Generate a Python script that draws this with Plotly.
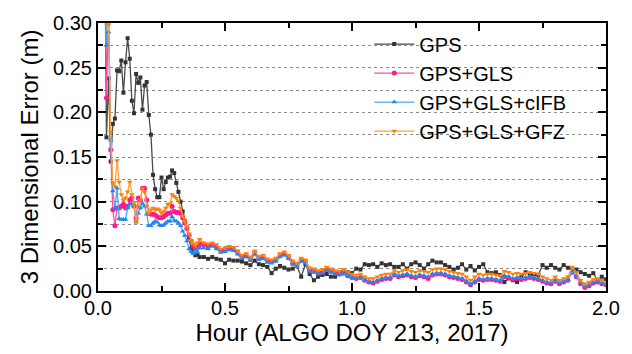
import numpy as np
import plotly.graph_objects as go

# epochs: 30 s spacing during convergence, 1 min afterwards (hours)
t_early = np.round(0.025 + np.arange(46) / 120, 5)
t_late = np.round(0.4 + np.arange(1, 97) / 60, 5)
hours = np.concatenate([t_early, t_late])

gps_early = [0.45, 0.172, 0.238, 0.145, 0.187, 0.193, 0.247, 0.246, 0.258, 0.222,
             0.256, 0.283, 0.260, 0.213, 0.199, 0.243, 0.233, 0.239, 0.203, 0.230,
             0.234, 0.197, 0.175, 0.130, 0.114, 0.105, 0.105, 0.127, 0.114, 0.122,
             0.127, 0.128, 0.135, 0.132, 0.121, 0.111, 0.100, 0.089, 0.078, 0.071,
             0.060, 0.047, 0.043, 0.040, 0.041, 0.038]
gps_late = [0.038, 0.036, 0.038, 0.036, 0.035, 0.031, 0.035, 0.034, 0.034, 0.033,
            0.031, 0.029, 0.034, 0.030, 0.029, 0.027, 0.020, 0.025, 0.028, 0.026,
            0.024, 0.025, 0.028, 0.016, 0.030, 0.019, 0.012, 0.016, 0.018, 0.019,
            0.016, 0.016, 0.021, 0.023, 0.021, 0.020, 0.025, 0.024, 0.030, 0.029,
            0.030, 0.027, 0.031, 0.029, 0.030, 0.027, 0.027, 0.030, 0.025, 0.030,
            0.032, 0.029, 0.025, 0.030, 0.034, 0.032, 0.032, 0.029, 0.027, 0.024,
            0.026, 0.030, 0.024, 0.028, 0.023, 0.027, 0.030, 0.021, 0.020, 0.021,
            0.018, 0.010, 0.014, 0.012, 0.010, 0.016, 0.021, 0.019, 0.019, 0.018,
            0.029, 0.026, 0.029, 0.026, 0.024, 0.029, 0.026, 0.024, 0.024, 0.021,
            0.019, 0.017, 0.020, 0.012, 0.016, 0.013]

gls_early = [0.45, 0.216, 0.320, 0.158, 0.091, 0.073, 0.093, 0.093, 0.095, 0.097,
             0.093, 0.095, 0.102, 0.104, 0.095, 0.082, 0.104, 0.102, 0.115, 0.115,
             0.102, 0.087, 0.086, 0.086, 0.085, 0.083, 0.082, 0.082, 0.083, 0.085,
             0.087, 0.087, 0.095, 0.089, 0.088, 0.088, 0.087, 0.082, 0.076, 0.070,
             0.062, 0.056, 0.050, 0.047, 0.050, 0.053]
gls_late = [0.052, 0.050, 0.052, 0.049, 0.045, 0.046, 0.048, 0.047, 0.043, 0.038,
            0.040, 0.036, 0.043, 0.037, 0.038, 0.034, 0.033, 0.035, 0.040, 0.042,
            0.038, 0.031, 0.029, 0.035, 0.033, 0.023, 0.022, 0.020, 0.021, 0.024,
            0.022, 0.020, 0.019, 0.020, 0.017, 0.015, 0.014, 0.015, 0.012, 0.010,
            0.009, 0.011, 0.013, 0.014, 0.014, 0.018, 0.016, 0.017, 0.018, 0.016,
            0.015, 0.017, 0.016, 0.014, 0.018, 0.019, 0.019, 0.018, 0.016, 0.015,
            0.014, 0.013, 0.010, 0.007, 0.010, 0.013, 0.012, 0.013, 0.013, 0.012,
            0.011, 0.016, 0.015, 0.013, 0.014, 0.013, 0.014, 0.015, 0.014, 0.013,
            0.011, 0.009, 0.008, 0.011, 0.008, 0.010, 0.012, 0.021, 0.016, 0.008,
            0.004, 0.006, 0.009, 0.010, 0.008, 0.007]

cifb_early = [0.45, 0.275, 0.290, 0.169, 0.112, 0.093, 0.115, 0.081, 0.080, 0.080,
              0.080, 0.093, 0.097, 0.098, 0.095, 0.077, 0.087, 0.093, 0.098, 0.095,
              0.086, 0.073, 0.073, 0.076, 0.078, 0.077, 0.074, 0.073, 0.074, 0.076,
              0.078, 0.078, 0.083, 0.079, 0.078, 0.076, 0.073, 0.067, 0.062, 0.056,
              0.047, 0.044, 0.042, 0.046, 0.043, 0.048]
cifb_late = [0.048, 0.047, 0.050, 0.047, 0.043, 0.044, 0.046, 0.045, 0.041, 0.036,
             0.038, 0.034, 0.041, 0.035, 0.036, 0.032, 0.031, 0.033, 0.038, 0.040,
             0.036, 0.030, 0.027, 0.033, 0.031, 0.022, 0.021, 0.019, 0.020, 0.023,
             0.021, 0.019, 0.018, 0.020, 0.017, 0.015, 0.014, 0.015, 0.012, 0.010,
             0.010, 0.012, 0.014, 0.015, 0.015, 0.019, 0.017, 0.018, 0.019, 0.017,
             0.016, 0.018, 0.017, 0.016, 0.019, 0.020, 0.020, 0.019, 0.017, 0.016,
             0.015, 0.014, 0.011, 0.008, 0.011, 0.014, 0.013, 0.014, 0.014, 0.013,
             0.012, 0.017, 0.016, 0.014, 0.015, 0.014, 0.015, 0.016, 0.015, 0.014,
             0.012, 0.010, 0.009, 0.012, 0.009, 0.011, 0.013, 0.022, 0.017, 0.009,
             0.005, 0.007, 0.010, 0.011, 0.009, 0.008]

gfz_early = [0.45, 0.420, 0.298, 0.178, 0.121, 0.117, 0.146, 0.122, 0.108, 0.102,
             0.104, 0.111, 0.122, 0.108, 0.098, 0.078, 0.095, 0.102, 0.115, 0.111,
             0.095, 0.087, 0.091, 0.093, 0.091, 0.092, 0.091, 0.087, 0.089, 0.093,
             0.097, 0.098, 0.108, 0.106, 0.104, 0.101, 0.093, 0.084, 0.078, 0.072,
             0.064, 0.056, 0.053, 0.051, 0.054, 0.058]
gfz_late = [0.054, 0.053, 0.054, 0.052, 0.047, 0.048, 0.050, 0.049, 0.045, 0.040,
            0.042, 0.038, 0.045, 0.039, 0.040, 0.036, 0.035, 0.037, 0.042, 0.044,
            0.040, 0.034, 0.031, 0.037, 0.035, 0.026, 0.025, 0.023, 0.024, 0.027,
            0.025, 0.023, 0.022, 0.024, 0.021, 0.019, 0.018, 0.019, 0.016, 0.014,
            0.014, 0.016, 0.018, 0.019, 0.019, 0.023, 0.021, 0.023, 0.024, 0.022,
            0.021, 0.023, 0.022, 0.021, 0.024, 0.025, 0.025, 0.024, 0.022, 0.021,
            0.020, 0.019, 0.016, 0.012, 0.016, 0.019, 0.018, 0.019, 0.019, 0.018,
            0.017, 0.022, 0.021, 0.019, 0.020, 0.019, 0.020, 0.021, 0.020, 0.019,
            0.016, 0.014, 0.012, 0.016, 0.012, 0.014, 0.016, 0.027, 0.021, 0.012,
            0.008, 0.010, 0.013, 0.014, 0.012, 0.010]

series = [
    ("GPS", gps_early + gps_late, "#4a4a4a", "#333333", "square", 4),
    ("GPS+GLS", gls_early + gls_late, "#ff4f9e", "#ff1a8c", "circle", 5),
    ("GPS+GLS+cIFB", cifb_early + cifb_late, "#4aa5ff", "#1e88f0", "triangle-up", 5),
    ("GPS+GLS+GFZ", gfz_early + gfz_late, "#ffa040", "#ff8000", "triangle-down", 5),
]

FONT = "Liberation Sans, Arial, sans-serif"

fig = go.Figure()
for name, vals, lc, mc, sym, ms in series:
    fig.add_trace(go.Scatter(
        x=hours, y=vals, name=name, mode="lines+markers",
        line=dict(color=lc, width=1.3),
        marker=dict(symbol=sym, size=ms, color=mc, line=dict(width=0)),
    ))

axis_common = dict(
    showline=True, linecolor="black", linewidth=2, mirror="ticks",
    ticks="inside", tickcolor="black", tickwidth=2, ticklen=8,
    zeroline=False,
    tickfont=dict(family=FONT, size=20, color="black"),
    title_font=dict(family=FONT, size=24, color="black"),
)

fig.update_xaxes(
    range=[0, 2.0], tickmode="linear", tick0=0, dtick=0.5, tickformat=".1f",
    showgrid=False, ticklabelstandoff=-2,
    minor=dict(dtick=0.25, ticks="inside", ticklen=5, tickwidth=1.5, tickcolor="black", showgrid=False),
    title_text="Hour (ALGO DOY 213, 2017)", title_standoff=0,
    **axis_common,
)
fig.update_yaxes(
    range=[0, 0.30], tickmode="linear", tick0=0, dtick=0.05, tickformat=".2f",
    showgrid=True, gridcolor="#8c8c8c", gridwidth=1, griddash="dot",
    minor=dict(dtick=0.025, ticks="inside", ticklen=5, tickwidth=1.5, tickcolor="black",
               showgrid=True, gridcolor="#8c8c8c", gridwidth=1, griddash="dot"),
    title_text="3 Dimensional Error (m)", title_standoff=8,
    **axis_common,
)

# white box behind the legend hides the dotted grid there
fig.add_shape(type="rect", xref="paper", yref="paper", x0=0.436, x1=0.979, y0=0.54, y1=0.995,
              fillcolor="white", line=dict(width=0), layer="between")

fig.update_layout(
    width=632, height=354,
    margin=dict(l=98, r=18, t=19, b=63),
    paper_bgcolor="white", plot_bgcolor="white",
    showlegend=True,
    legend=dict(x=0.534, y=0.994, xanchor="left", yanchor="top",
                bgcolor="rgba(0,0,0,0)", borderwidth=0,
                font=dict(family=FONT, size=20, color="black"),
                tracegroupgap=0, itemwidth=40),
    font=dict(family=FONT, color="black"),
)

fig.write_html("out.html")
